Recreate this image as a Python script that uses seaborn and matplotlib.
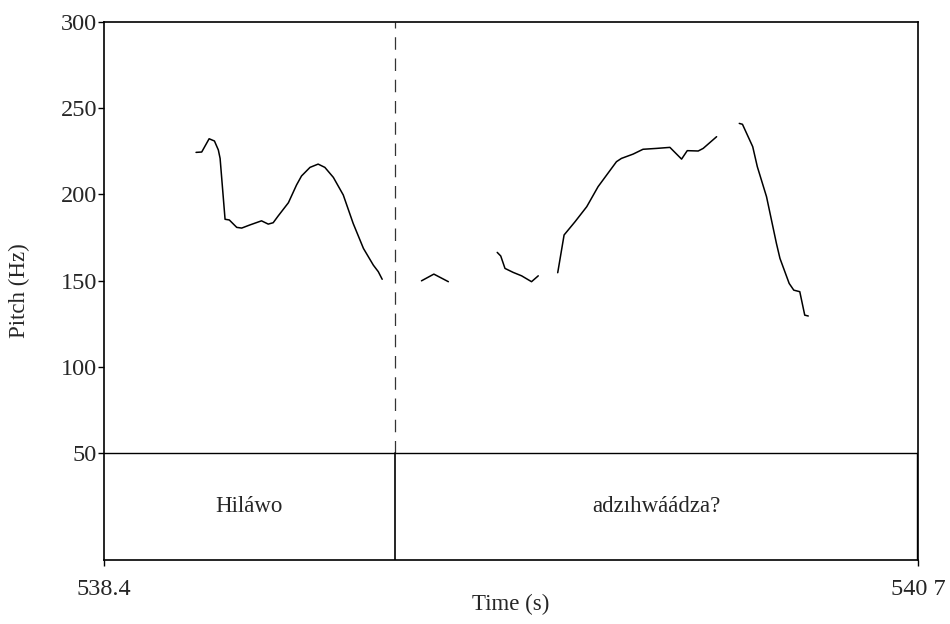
import matplotlib
matplotlib.use("Agg")
import matplotlib.pyplot as plt
import pandas as pd
import numpy as np
import seaborn as sns

# pitch track (time in s, pitch in Hz), one list per voiced stretch
seg1_t = [538.660, 538.676, 538.697, 538.712, 538.723, 538.728, 538.742, 538.754, 538.775,
          538.789, 538.812, 538.845, 538.864, 538.878, 538.892, 538.921, 538.944, 538.958,
          538.982, 539.005, 539.024, 539.048, 539.076, 539.104, 539.133, 539.161, 539.175, 539.186]
seg1_f = [224.4, 224.6, 232.3, 231.0, 225.8, 220.9, 185.6, 185.2, 180.9,
          180.5, 182.3, 184.7, 182.8, 183.6, 187.5, 195.2, 205.5, 210.7,
          215.7, 217.6, 215.7, 209.9, 199.7, 183.2, 168.7, 159.0, 155.2, 150.8]
seg2_t = [539.297, 539.332, 539.373]
seg2_f = [149.9, 153.8, 149.4]
seg3_t = [539.511, 539.521, 539.533, 539.556, 539.580, 539.608, 539.627]
seg3_f = [166.4, 164.3, 157.1, 154.8, 152.8, 149.4, 152.8]
seg4_t = [539.682, 539.700, 539.731, 539.764, 539.796, 539.848, 539.862, 539.895,
          539.923, 539.961, 539.999, 540.032, 540.048, 540.079, 540.093, 540.131]
seg4_f = [154.6, 176.5, 184.2, 192.9, 204.5, 219.0, 220.9, 223.4,
          226.2, 226.7, 227.3, 220.5, 225.4, 225.2, 226.7, 233.5]
seg5_t = [540.195, 540.204, 540.233, 540.246, 540.272, 540.300, 540.310, 540.336,
          540.349, 540.366, 540.380, 540.390]
seg5_f = [241.2, 240.7, 227.7, 216.1, 198.7, 171.6, 162.9, 148.4,
          144.5, 143.6, 130.0, 129.5]

# text grid
t_start = 538.4
t_end = 540.7
boundary = 539.222
words = ["Hiláwo", "adzıhwáádza?"]
word_mid = [538.81, 539.96]

y_ticks = [50, 100, 150, 200, 250, 300]
x_ticks = [538.4, 540.7]
x_labels = ["538.4", "540 7"]

segs = [(seg1_t, seg1_f), (seg2_t, seg2_f), (seg3_t, seg3_f), (seg4_t, seg4_f), (seg5_t, seg5_f)]
df = pd.concat([pd.DataFrame({"t": t, "f": f, "seg": i}) for i, (t, f) in enumerate(segs)])

sns.set_theme(style="white")
plt.rcParams["font.family"] = ["Liberation Serif", "DejaVu Serif"]

fig = plt.figure(figsize=(9.5, 6.24), dpi=100)
ax = fig.add_axes([0.1095, 0.1026, 0.8568, 0.8621])

sns.lineplot(data=df, x="t", y="f", units="seg", estimator=None, sort=False,
             color="black", linewidth=1.1, ax=ax)

tier_top = 50
y_min = -12
ax.axhline(tier_top, color="black", linewidth=1.0)
ax.plot([boundary, boundary], [tier_top, 300], color="#333333", linewidth=0.9,
        linestyle=(0, (10, 7)))
ax.plot([boundary, boundary], [y_min, tier_top], color="black", linewidth=1.2)
ax.plot([t_end - 0.004, t_end - 0.004], [y_min, tier_top], color="black", linewidth=1.0)
for w, m in zip(words, word_mid):
    ax.text(m, 19, w, ha="center", va="center", fontsize=16.5)

ax.set_xlim(t_start, t_end)
ax.set_ylim(y_min, 300)
ax.set_yticks(y_ticks)
ax.set_yticklabels([str(v) for v in y_ticks])
ax.set_xticks(x_ticks)
ax.set_xticklabels(x_labels)
ax.tick_params(axis="both", direction="out", length=4, width=1, labelsize=17.5,
               left=True, bottom=True, color="black")
ax.tick_params(axis="y", pad=1)
ax.tick_params(axis="x", pad=10)
ax.set_xlabel("Time (s)", fontsize=16.5, labelpad=-5)
ax.set_ylabel("Pitch (Hz)", fontsize=16.5, labelpad=22)
for s in ax.spines.values():
    s.set_color("black")
    s.set_linewidth(1.2)

fig.savefig("out.png", dpi=100)
